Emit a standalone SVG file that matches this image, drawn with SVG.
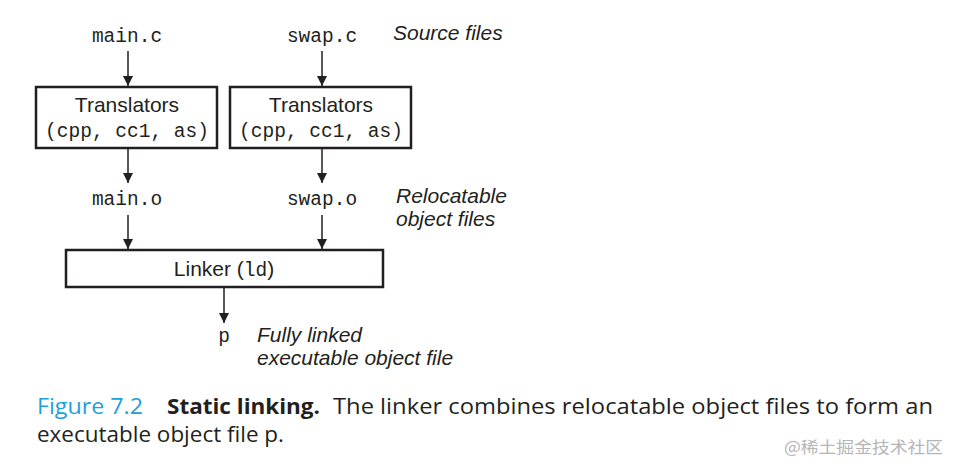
<svg xmlns="http://www.w3.org/2000/svg" width="960" height="475" viewBox="0 0 960 475">
<style>
.mono{font-family:"Liberation Mono","Courier New",monospace;font-size:19.5px;fill:#231f20}
.sans{font-family:"Liberation Sans",Arial,sans-serif;font-size:21px;fill:#231f20}
.ital{font-family:"Liberation Sans",Arial,sans-serif;font-size:21px;font-style:italic;fill:#231f20}
.box{fill:#fff;stroke:#231f20;stroke-width:2.5}
.conn{stroke:#231f20;stroke-width:1.5;fill:none;marker-end:url(#ah)}
.cap{font-family:"Open Sans","Liberation Sans",sans-serif;font-size:22px;fill:#231f20}
</style>
<defs>
<marker id="ah" viewBox="0 0 10 10" refX="10" refY="5" markerWidth="10" markerHeight="10" markerUnits="userSpaceOnUse" orient="auto">
<path d="M0,0 L10,5 L0,10 z" fill="#231f20"/>
</marker>
</defs>
<rect width="960" height="475" fill="#fff"/>
<g id="connectors">
<line class="conn" x1="128" y1="51" x2="128" y2="86"/>
<line class="conn" x1="322" y1="51" x2="322" y2="86"/>
<line class="conn" x1="128" y1="149" x2="128" y2="183"/>
<line class="conn" x1="322" y1="149" x2="322" y2="183"/>
<line class="conn" x1="128" y1="215" x2="128" y2="249"/>
<line class="conn" x1="322" y1="215" x2="322" y2="249"/>
<line class="conn" x1="224" y1="288" x2="224" y2="323"/>
</g>
<g id="main_c"><text class="mono" x="127" y="42" text-anchor="middle">main.c</text></g>
<g id="swap_c"><text class="mono" x="322" y="42" text-anchor="middle">swap.c</text></g>
<g id="label_source"><text class="ital" x="393" y="40">Source files</text></g>
<g id="translators1">
<rect class="box" x="36" y="87" width="181" height="61"/>
<text class="sans" x="127" y="112" text-anchor="middle">Translators</text>
<text class="mono" x="127" y="137" text-anchor="middle">(cpp, cc1, as)</text>
</g>
<g id="translators2">
<rect class="box" x="230" y="87" width="181" height="61"/>
<text class="sans" x="321" y="112" text-anchor="middle">Translators</text>
<text class="mono" x="321" y="137" text-anchor="middle">(cpp, cc1, as)</text>
</g>
<g id="main_o"><text class="mono" x="127" y="205" text-anchor="middle">main.o</text></g>
<g id="swap_o"><text class="mono" x="322" y="205" text-anchor="middle">swap.o</text></g>
<g id="label_reloc">
<text class="ital" x="396" y="203">Relocatable</text>
<text class="ital" x="396" y="226">object files</text>
</g>
<g id="linker">
<rect class="box" x="66" y="250" width="317" height="37"/>
<text class="sans" x="224" y="276" text-anchor="middle">Linker (<tspan class="mono">ld</tspan>)</text>
</g>
<g id="p"><text class="mono" x="224" y="342" text-anchor="middle">p</text></g>
<g id="label_exec">
<text class="ital" x="257" y="342">Fully linked</text>
<text class="ital" x="257" y="365">executable object file</text>
</g>
<g id="caption">
<text class="cap" x="37" y="414" textLength="106" lengthAdjust="spacingAndGlyphs" style="fill:#1e9fd8">Figure 7.2</text>
<text class="cap" x="167" y="414" textLength="153" lengthAdjust="spacingAndGlyphs" style="font-weight:bold">Static linking.</text>
<text class="cap" x="333" y="414" textLength="600" lengthAdjust="spacingAndGlyphs">The linker combines relocatable object files to form an</text>
<text class="cap" x="37" y="442" textLength="247" lengthAdjust="spacingAndGlyphs">executable object file p.</text>
</g>
<g id="watermark"><text x="784" y="453" textLength="159" lengthAdjust="spacingAndGlyphs" style="font-family:'Noto Sans CJK SC',sans-serif;font-size:16px;fill:#b5b5b5">@稀土掘金技术社区</text></g>
</svg>
